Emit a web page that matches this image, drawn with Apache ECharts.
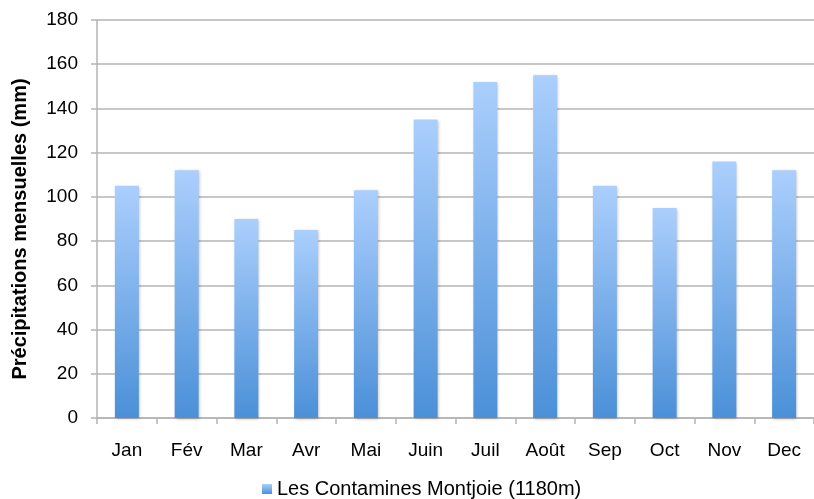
<!DOCTYPE html>
<html>
<head>
<meta charset="utf-8">
<script src="https://cdn.jsdelivr.net/npm/echarts@6/dist/echarts.min.js"></script>
<style>
  html, body { margin: 0; padding: 0; background: #fff; }
</style>
</head>
<body>
<div id="main" style="width: 814px; height: 499px;"></div>
<script>
const months = ['Jan', 'Fév', 'Mar', 'Avr', 'Mai', 'Juin', 'Juil', 'Août', 'Sep', 'Oct', 'Nov', 'Dec']
const precip = [105, 112, 90, 85, 103, 135, 152, 155, 105, 95, 116, 112]
const seriesName = 'Les Contamines Montjoie (1180m)'

const gray = '#b4b4b4'
const font = 'Liberation Sans'

const chart = echarts.init(document.getElementById('main'))
const option = {
  animation: false,
  textStyle: { fontFamily: font },
  grid: { left: 97, top: 20, width: 723, height: 398, containLabel: false },
  legend: {
    top: 479,
    left: 262,
    padding: 0,
    itemWidth: 10,
    itemHeight: 10,
    itemGap: 5,
    textStyle: { fontFamily: font, fontSize: 20, color: '#000' },
    data: [{ name: seriesName, icon: 'rect' }],
  },
  xAxis: {
    type: 'category',
    data: months,
    axisLine: { lineStyle: { color: gray, width: 1.5 } },
    axisTick: { show: true, length: 6, lineStyle: { color: gray, width: 1.5 } },
    axisLabel: { color: '#000', fontSize: 19, margin: 23, fontFamily: font },
  },
  yAxis: {
    type: 'value',
    min: 0,
    max: 180,
    interval: 20,
    name: 'Précipitations mensuelles (mm)',
    nameLocation: 'middle',
    nameGap: 67,
    nameTextStyle: { color: '#000', fontSize: 20, fontWeight: 'bold', fontFamily: font, padding: [0, 20, 0, 0] },
    axisLine: { show: true, lineStyle: { color: gray, width: 1.5 } },
    axisTick: { show: true, length: 6, lineStyle: { color: gray, width: 1.5 } },
    axisLabel: { color: '#000', fontSize: 19, margin: 19, fontFamily: font },
    splitLine: { lineStyle: { color: gray, width: 1.5 } },
  },
  series: [
    {
      name: seriesName,
      type: 'bar',
      data: precip,
      barWidth: 24,
      itemStyle: {
        color: new echarts.graphic.LinearGradient(0, 0, 0, 1, [
          { offset: 0, color: '#abcffd' },
          { offset: 1, color: '#4b90d8' },
        ]),
        shadowColor: 'rgba(0,0,0,0.25)',
        shadowBlur: 3,
        shadowOffsetX: 1,
        shadowOffsetY: 1,
      },
    },
  ],
}
chart.setOption(option)
</script>
</body>
</html>
